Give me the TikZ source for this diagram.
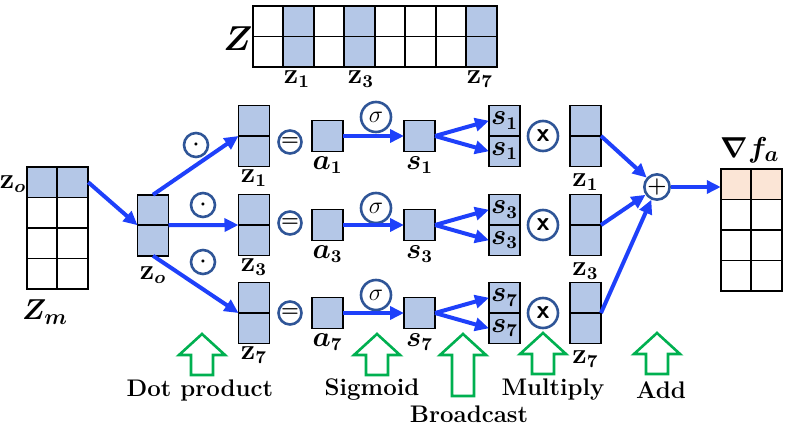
\documentclass[tikz,border=0pt]{standalone}
\usepackage{amsmath}
\usepackage{amssymb}
\usetikzlibrary{calc, positioning}
\usetikzlibrary{arrows.meta}

\definecolor{flowblue}{RGB}{30,64,250}
\definecolor{cellblue}{RGB}{180,199,231}
\definecolor{peach}{RGB}{251,229,214}
\definecolor{opblue}{RGB}{47,85,151}
\definecolor{hintgreen}{RGB}{0,176,80}

\begin{document}
\begin{tikzpicture}[x=0.5pt, y=-0.5pt,
  cell/.style={draw, line width=0.8pt, minimum width=15.5pt, minimum height=15.25pt, inner sep=0pt, outer sep=0pt},
  full/.style={cell, fill=cellblue},
  op/.style={circle, draw=opblue, line width=1.3pt, inner sep=0pt, font=\fontsize{10}{12}\selectfont\bfseries},
  flow/.style={draw=flowblue, line width=2pt, -{Triangle[length=7pt, width=6.5pt]}},
  lbl/.style={font=\fontsize{12}{14}\selectfont\bfseries},
  mlbl/.style={font=\fontsize{13.5}{15}\selectfont\bfseries},
  pics/hint/.style={code={
    \draw[hintgreen, line width=1.3pt, line join=miter]
      (-11,0) -- (-11,{-(#1-21)}) -- (-23,{-(#1-21)}) -- (0,-#1)
      -- (23,{-(#1-21)}) -- (11,{-(#1-21)}) -- (11,0) -- cycle;}}]
\useasboundingbox (0,0) rectangle (789,429);

% input matrices
\foreach \c/\col in {1/white,2/cellblue,3/white,4/cellblue,5/white,6/white,7/white,8/cellblue}
  \foreach \r in {1,2}
    \node[cell, fill=\col] (Z-\r-\c) at ({253+30.5*(\c-0.5)},{6+30.5*(\r-0.5)}) {};
\node[mlbl, font=\fontsize{16}{18}\selectfont] (Zlbl) at (238,39) {$\boldsymbol{Z}$};
\node[mlbl] (Zz1) at (297,79) {$\mathbf{z}_{\boldsymbol{1}}$};
\node[mlbl] (Zz3) at (361,79) {$\mathbf{z}_{\boldsymbol{3}}$};
\node[mlbl] (Zz7) at (480,79) {$\mathbf{z}_{\boldsymbol{7}}$};

\foreach \r/\col in {1/cellblue,2/white,3/white,4/white}
  \foreach \c in {1,2}
    \node[cell, fill=\col] (Zm-\r-\c) at ({27+30.5*(\c-0.5)},{167+30.5*(\r-0.5)}) {};
\node[mlbl] (zolft) at (13,184) {$\mathbf{z}_{\boldsymbol{o}}$};
\node[mlbl, font=\fontsize{15}{17}\selectfont] (Zmlbl) at (45,312) {$\boldsymbol{Z_m}$};

% output gradient
\foreach \r/\col in {1/peach,2/white,3/white,4/white}
  \foreach \c in {1,2}
    \node[cell, fill=\col] (G-\r-\c) at ({721+30.5*(\c-0.5)},{169+30.5*(\r-0.5)}) {};
\node[mlbl, font=\fontsize{15}{17}\selectfont] (Glbl) at (750,150) {$\boldsymbol{\nabla f_a}$};

% z_o column
\node[full] (zo-a) at (153,210) {};
\node[full, below=0pt of zo-a] (zo-b) {};
\node[mlbl, below=2pt of zo-b] (zolbl) {$\mathbf{z}_{\boldsymbol{o}}$};

\node[op, minimum size=11.5pt, font=\fontsize{11}{12}\selectfont\bfseries] (plus) at (657,187) {+};

% three rows
\foreach \n/\y/\ox/\oy/\ey/\sy in {1/136/196/145/142/117, 3/225/203/205/223/208, 7/313/203/262/313/295} {
  \node[full] (z\n-a) at (254,{\y-15.25}) {};
  \node[full, below=0pt of z\n-a] (z\n-b) {};
  \node[mlbl, below=-2pt of z\n-b] (z\n-l) {$\mathbf{z}_{\boldsymbol{\n}}$};
  \node[op, minimum size=12pt] (dot\n) at (\ox,\oy) {$\boldsymbol{\cdot}$};
  \node[op, minimum size=11.5pt] (eq\n) at (290,\ey) {$\boldsymbol{=}$};
  \node[full, minimum height=15.5pt] (a\n) at (327.5,\y) {};
  \node[mlbl, below=-1pt of a\n] (a\n-l) {$\boldsymbol{a_\n}$};
  \node[op, minimum size=15pt, font=\fontsize{13}{15}\selectfont] (sig\n) at (376,\sy) {$\sigma$};
  \node[full, minimum height=15.5pt] (s\n) at (419.5,\y) {};
  \node[mlbl, below=-1pt of s\n] (s\n-l) {$\boldsymbol{s_\n}$};
  \node[full, mlbl] (b\n-a) at (504.5,{\y-15.25}) {$\boldsymbol{s_\n}$};
  \node[full, mlbl, below=0pt of b\n-a] (b\n-b) {$\boldsymbol{s_\n}$};
  \node[op, minimum size=15pt, font=\fontsize{13}{15}\selectfont\sffamily\bfseries] (mul\n) at (543,\y) {x};
  \node[full] (r\n-a) at (585.5,{\y-15.25}) {};
  \node[full, below=0pt of r\n-a] (r\n-b) {};
  \node[mlbl, below=0pt of r\n-b] (r\n-l) {$\mathbf{z}_{\boldsymbol{\n}}$};
  \draw[flow] (a\n) -- (s\n);
  \draw[flow] (s\n.east) -- (b\n-a.west);
  \draw[flow] (s\n.east) -- (b\n-b.west);
  \draw[flow] (r\n-a.south east) -- (plus);
}

\draw[flow] (Zm-1-2.east) -- (zo-a.south west);
\draw[flow] (zo-a.north) -- (z1-a.south west);
\draw[flow] (zo-a.south east) -- (z3-a.south west);
\draw[flow] (zo-b.south) -- (z7-a.south west);
\draw[flow] (plus) -- (plus -| G-1-1.west);

% step hints
\pic at (202,375) {hint=41};
\pic at (377,375) {hint=41};
\pic at (463,396) {hint=62};
\pic at (543,374) {hint=41};
\pic at (657,374) {hint=41};
\node[lbl] (dotlbl) at (200,390) {Dot product};
\node[lbl] (siglbl) at (372,390) {Sigmoid};
\node[lbl] (bclbl) at (469,414) {Broadcast};
\node[lbl] (mullbl) at (553,390) {Multiply};
\node[lbl] (addlbl) at (661,390) {Add};
\end{tikzpicture}
\end{document}
